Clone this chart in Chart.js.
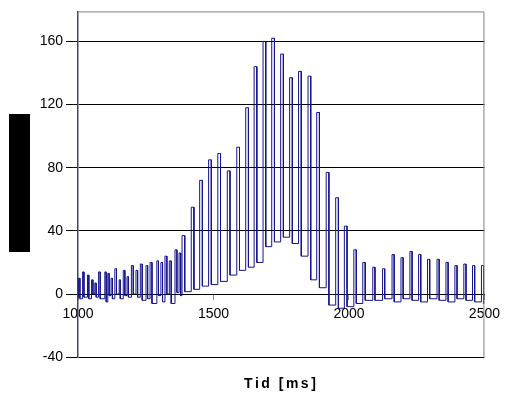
<!DOCTYPE html>
<html>
<head>
<meta charset="utf-8">
<script src="https://cdn.jsdelivr.net/npm/chart.js@4/dist/chart.umd.min.js"></script>
<style>
  html, body { margin: 0; padding: 0; background: #fff; }
  #wrap { width: 507px; height: 397px; }
</style>
</head>
<body>
<div id="wrap"><canvas id="chart"></canvas></div>
<script>
// pulses: rise time, top value, fall time, value it falls to
const riseTime = [1002, 1017, 1035, 1050, 1062, 1076, 1099, 1110, 1122, 1136, 1152, 1167, 1181, 1197, 1214, 1230, 1251, 1266, 1291, 1306,
  1321, 1337, 1358, 1373, 1384, 1418, 1449, 1482, 1516, 1551, 1586, 1619, 1650, 1683, 1715, 1748, 1781, 1814, 1849, 1881,
  1916, 1951, 1983, 2018, 2051, 2088, 2124, 2159, 2192, 2225, 2257, 2290, 2325, 2358, 2391, 2424, 2456, 2489];
const peakValue = [10, 14, 12, 9, 7, 14, 14, 13, 10, 16, 9, 15, 11, 18, 15, 19, 18, 20, 21, 20,
  24, 21, 28, 26, 37, 55, 72, 85, 89, 78, 93, 118, 144, 160, 162, 152, 137, 141, 138, 115,
  77, 61, 43, 28, 20, 17, 16, 25, 23, 27, 25, 22, 22, 20, 18, 19, 18, 18];
const fallTime = [1007, 1022, 1040, 1055, 1067, 1082, 1104, 1115, 1127, 1142, 1156, 1173, 1186, 1204, 1220, 1237, 1257, 1273, 1297, 1312,
  1328, 1344, 1365, 1379, 1394, 1428, 1459, 1492, 1526, 1561, 1596, 1629, 1660, 1693, 1725, 1758, 1791, 1824, 1859, 1891,
  1926, 1961, 1993, 2027, 2060, 2096, 2132, 2167, 2200, 2233, 2265, 2298, 2333, 2366, 2399, 2432, 2464, 2497];
const troughValue = [-3, -2, -3, 0, -2, -3, -5, -1, -3, 0, -3, -1, -2, 0, -2, -4, -3, -6, -1, -5,
  0, -6, 1, -1, 1.5, 3, 5, 6, 8, 12, 15, 17, 20, 30, 33, 36, 32, 24, 9, 4,
  -7, -9, -8, -6, -4, -4, -3, -5, -3, -4, -5, -3, -4, -5, -3, -4, -5, -6];
const startValue = -2;

const xTickValues = [1000, 1500, 2000, 2500];
const xTickLabels = ['1000', '1500', '2000', '2500'];
const yTickValues = [-40, 0, 40, 80, 120, 160];

// build the trace
const points = [{ x: 1000, y: startValue }];
let level = startValue;
for (let i = 0; i < riseTime.length; i++) {
  points.push({ x: riseTime[i], y: level });
  points.push({ x: riseTime[i], y: peakValue[i] });
  points.push({ x: fallTime[i], y: peakValue[i] });
  points.push({ x: fallTime[i], y: troughValue[i] });
  level = troughValue[i];
}
points.push({ x: 2500, y: level });

Chart.defaults.font.family = "'Liberation Sans', Arial, sans-serif";
Chart.defaults.color = '#000';

const frame = {
  id: 'frame',
  beforeDraw(chart) {
    const t = chart.titleBlock;
    if (t && !t._spaced) {
      const draw = t.draw.bind(t);
      t.draw = function (area) {
        const ctx = this.ctx;
        ctx.save();
        ctx.letterSpacing = '2.5px';
        draw(area);
        ctx.restore();
      };
      t._spaced = true;
    }
  },
  afterDraw(chart) {
    const { ctx, chartArea: a } = chart;
    ctx.save();
    ctx.strokeStyle = '#808080';
    ctx.lineWidth = 1;
    ctx.beginPath();
    ctx.moveTo(a.left, a.top + 0.5);
    ctx.lineTo(a.right - 0.5, a.top + 0.5);
    ctx.lineTo(a.right - 0.5, a.bottom);
    ctx.stroke();
    // blacked-out axis title
    ctx.fillStyle = '#000';
    ctx.fillRect(9, 114, 21, 138);
    ctx.restore();
  }
};

new Chart(document.getElementById('chart'), {
  type: 'line',
  data: {
    datasets: [{
      data: points,
      borderColor: '#14148c',
      borderWidth: 1,
      pointRadius: 0,
      tension: 0,
      fill: false
    }]
  },
  options: {
    responsive: true,
    maintainAspectRatio: false,
    animation: false,
    layout: { padding: { top: 10, right: 18, left: 0, bottom: 0 } },
    plugins: {
      legend: { display: false },
      tooltip: { enabled: false },
      title: {
        display: true,
        text: 'Tid [ms]',
        position: 'bottom',
        fullSize: false,
        color: '#000',
        font: { size: 14, weight: 'bold' },
        padding: { top: 19, bottom: 4 }
      }
    },
    scales: {
      x: {
        type: 'linear',
        position: { y: 0 },
        min: 1000,
        max: 2500,
        afterBuildTicks: s => { s.ticks = xTickValues.map(v => ({ value: v })); },
        ticks: {
          callback: v => xTickLabels[xTickValues.indexOf(v)],
          font: { size: 14 },
          padding: 7,
          maxRotation: 0,
          autoSkip: false
        },
        grid: { drawOnChartArea: false, drawTicks: true, tickLength: 5, color: '#888' },
        border: { display: true, color: '#000' }
      },
      y: {
        min: -40,
        max: 179,
        afterBuildTicks: s => { s.ticks = yTickValues.map(v => ({ value: v })); },
        afterFit: s => { s.width = 78; },
        ticks: { font: { size: 14 }, padding: 3 },
        grid: { color: '#000', tickLength: 12 },
        border: { color: '#45455a', width: 1.5 }
      }
    }
  },
  plugins: [frame]
});
</script>
</body>
</html>
